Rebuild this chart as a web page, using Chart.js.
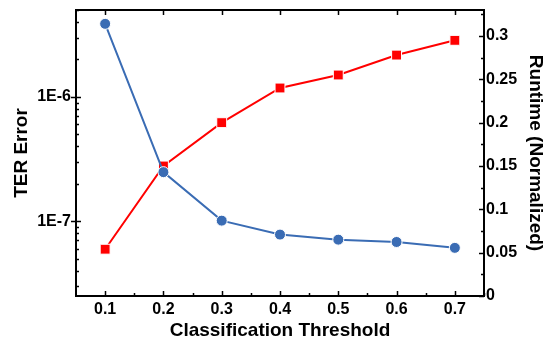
<!DOCTYPE html>
<html>
<head>
<meta charset="utf-8">
<script src="https://cdn.jsdelivr.net/npm/chart.js@4/dist/chart.umd.min.js"></script>
<style>
  html, body { margin: 0; padding: 0; background: #fff; }
  canvas { display: block; }
</style>
</head>
<body>
<canvas id="chart" width="549" height="341"></canvas>
<script>
const thresholds = [0.1, 0.2, 0.3, 0.4, 0.5, 0.6, 0.7];
const terError = [3.87e-6, 2.48e-7, 1.01e-7, 7.8e-8, 7.1e-8, 6.8e-8, 6.1e-8];
const runtime = [0.054, 0.150, 0.200, 0.240, 0.255, 0.278, 0.295];
const xTicks = [0.1, 0.2, 0.3, 0.4, 0.5, 0.6, 0.7];
const leftTicks = [1e-7, 1e-6];
const leftTickLabels = ["1E-7", "1E-6"];
const rightTicks = [0, 0.05, 0.1, 0.15, 0.2, 0.25, 0.3];

const FONT = "'Liberation Sans', Arial, sans-serif";
const BLUE = "#3a6cb4";
const RED = "#ff0000";

function fixedTicks(list) {
  return (scale) => { scale.ticks = list.map((v) => ({ value: v })); };
}

// pin axis sizes so the plot area lands where the original one is
function pin(size) {
  return (s) => {
    if (s.isHorizontal()) s.height = size; else s.width = size;
    s.paddingTop = 0;
    s.paddingBottom = 0;
    s.paddingLeft = 0;
    s.paddingRight = 0;
  };
}

// frame and the small tick marks on all four sides
const frame = {
  id: "frame",
  afterDraw(chart) {
    const { ctx, chartArea: a, scales } = chart;
    const x = scales.x, yl = scales.y, yr = scales.y1;
    ctx.save();
    ctx.strokeStyle = "#000";
    ctx.lineWidth = 2;
    ctx.strokeRect(a.left, a.top, a.right - a.left, a.bottom - a.top);
    ctx.lineWidth = 1.5;
    const seg = (x1, y1, x2, y2) => { ctx.beginPath(); ctx.moveTo(x1, y1); ctx.lineTo(x2, y2); ctx.stroke(); };

    xTicks.forEach((v) => {
      const px = Math.round(x.getPixelForValue(v)) + 0.5;
      seg(px, a.bottom, px, a.bottom - 5);
      seg(px, a.top, px, a.top + 5);
    });
    for (let v = 0.15; v < x.max; v += 0.1) {
      const px = Math.round(x.getPixelForValue(v)) + 0.5;
      seg(px, a.bottom, px, a.bottom - 3);
    }

    for (let e = -8; e <= -6; e++) {
      for (let k = 1; k <= 9; k++) {
        const v = k * Math.pow(10, e);
        if (v < yl.min || v > yl.max) continue;
        const py = Math.round(yl.getPixelForValue(v)) + 0.5;
        if (k === 1) seg(a.left - 5, py, a.left + 5, py);
        else seg(a.left, py, a.left + 3, py);
      }
    }

    rightTicks.forEach((v) => {
      const py = Math.round(yr.getPixelForValue(v)) + 0.5;
      seg(a.right - 5, py, a.right, py);
      const m = yr.getPixelForValue(v + 0.025);
      if (v + 0.025 < yr.max) seg(a.right - 3, Math.round(m) + 0.5, a.right, Math.round(m) + 0.5);
    });
    ctx.restore();
  },
};

const tickFont = { family: FONT, size: 16, weight: "bold" };
const titleFont = { family: FONT, size: 19, weight: "bold", lineHeight: 1 };
const noGrid = { display: false, drawTicks: false };

new Chart(document.getElementById("chart"), {
  type: "line",
  data: {
    labels: thresholds,
    datasets: [
      {
        label: "TER Error",
        data: thresholds.map((t, i) => ({ x: t, y: terError[i] })),
        yAxisID: "y",
        borderColor: BLUE,
        backgroundColor: BLUE,
        borderWidth: 2,
        pointStyle: "circle",
        pointRadius: 5.5,
        pointBorderColor: "#fff",
        pointBorderWidth: 1,
        order: 0,
      },
      {
        label: "Runtime",
        data: thresholds.map((t, i) => ({ x: t, y: runtime[i] })),
        yAxisID: "y1",
        borderColor: RED,
        backgroundColor: RED,
        borderWidth: 2,
        pointStyle: "rect",
        pointRadius: 7,
        pointBorderColor: "#fff",
        pointBorderWidth: 1,
        order: 1,
      },
    ],
  },
  options: {
    responsive: false,
    animation: false,
    layout: { padding: { top: 10, left: 0, right: 0, bottom: 0 } },
    plugins: { legend: { display: false }, tooltip: { enabled: false } },
    scales: {
      x: {
        type: "linear",
        min: 0.05,
        max: 0.75,
        afterBuildTicks: fixedTicks(xTicks),
        afterFit: pin(45),
        grid: noGrid,
        border: { display: false },
        ticks: { font: tickFont, color: "#000", padding: 4, maxRotation: 0, callback: (v) => v.toFixed(1) },
        title: { display: true, text: "Classification Threshold", font: titleFont, color: "#000", padding: { top: 0, bottom: 1 } },
      },
      y: {
        type: "logarithmic",
        position: "left",
        min: 2.5e-8,
        max: 5e-6,
        afterBuildTicks: fixedTicks(leftTicks),
        afterFit: pin(76),
        grid: noGrid,
        border: { display: false },
        ticks: {
          font: tickFont,
          color: "#000",
          padding: 5,
          callback: (v) => leftTickLabels[leftTicks.findIndex((t) => Math.abs(t - v) / t < 1e-6)] || "",
        },
        title: { display: true, text: "TER Error", font: titleFont, color: "#000", padding: { top: 12, bottom: 0 } },
      },
      y1: {
        type: "linear",
        position: "right",
        min: 0,
        max: 0.33,
        afterBuildTicks: fixedTicks(rightTicks),
        afterFit: pin(65),
        grid: noGrid,
        border: { display: false },
        ticks: { font: tickFont, color: "#000", padding: 2, callback: (v) => String(+v.toFixed(2)) },
        title: { display: true, text: "Runtime (Normalized)", font: titleFont, color: "#000", padding: { top: 4, bottom: 0 } },
      },
    },
  },
  plugins: [frame],
});
</script>
</body>
</html>
